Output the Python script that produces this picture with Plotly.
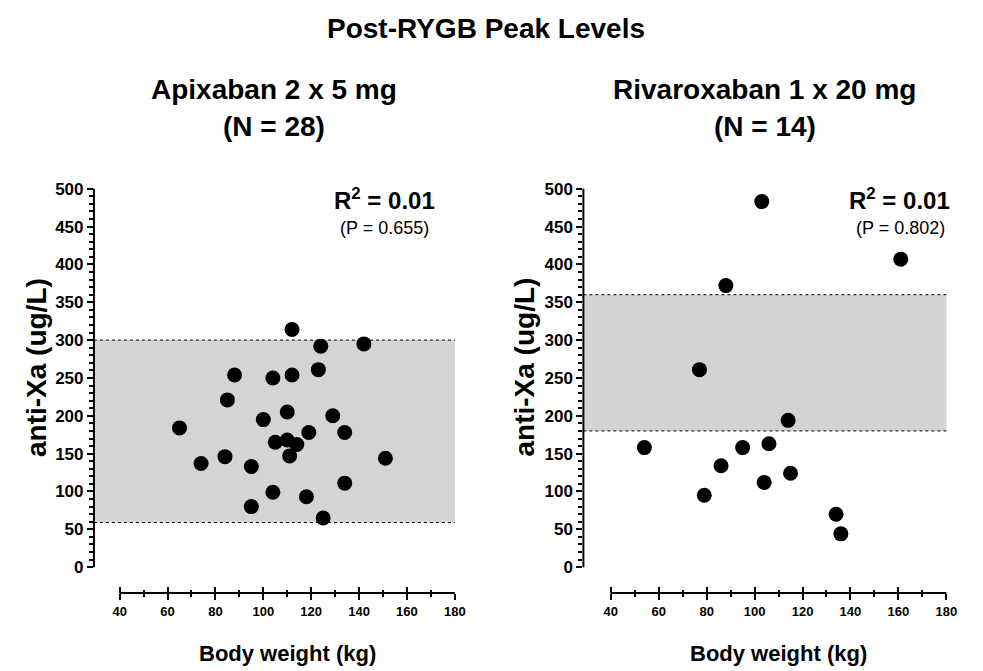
import plotly.graph_objects as go

# ---------------- data ----------------
apix_weight = [65, 74, 84, 85, 88, 95, 95, 100, 104, 104, 105, 110, 110, 111,
               112, 112, 114, 118, 119, 123, 124, 125, 129, 134, 134, 142, 151]
apix_xa = [184, 137, 146, 221, 254, 80, 133, 195, 250, 99, 165, 205, 168, 147,
           314, 254, 162, 93, 178, 261, 292, 65, 200, 178, 111, 295, 144]

riva_weight = [54, 77, 79, 86, 88, 95, 103, 104, 106, 114, 115, 134, 136, 161]
riva_xa = [158, 261, 95, 134, 372, 158, 483, 112, 163, 194, 124, 70, 44, 407]

apix_range = [59, 300]      # target peak range band
riva_range = [180, 360]

titles = ["Apixaban 2 x 5 mg", "Rivaroxaban 1 x 20 mg"]
n_labels = ["(N = 28)", "(N = 14)"]
r2_labels = ["R<sup>2</sup> = 0.01", "R<sup>2</sup> = 0.01"]
p_labels = ["(P = 0.655)", "(P = 0.802)"]

y_ticks = list(range(0, 501, 50))
y_minor = [v for v in range(0, 501, 10) if v % 50]
x_ticks = list(range(40, 181, 20))
x_minor = list(range(50, 180, 20))
y_axis_span = [0, 500]
x_axis_span = [40, 180]

# ---------------- layout helpers ----------------
W, H = 983, 671
FONT = "Liberation Sans, Arial, sans-serif"


def px(x):
    return x / W


def py(y):
    return 1 - y / H


plot_left = [(95, 460), (590, 957)]
plot_top, plot_bottom = 180, 593
yr = [-34.3, 510.6]
xr = [[29.26, 180], [28.56, 180]]


def y_paper(v):
    pix = plot_bottom - (v - yr[0]) / (yr[1] - yr[0]) * (plot_bottom - plot_top)
    return py(pix)


def x_paper(v, i):
    l, r = plot_left[i]
    pix = l + (v - xr[i][0]) / (xr[i][1] - xr[i][0]) * (r - l)
    return px(pix)


fig = go.Figure()

datasets = [(apix_weight, apix_xa, apix_range, "#d4d4d7"),
            (riva_weight, riva_xa, riva_range, "#d3d3d3")]

tickfont_x = dict(family=FONT, size=13, color="black", weight="bold")
tickfont_y = dict(family=FONT, size=17, color="black", weight="bold")

for i, (wx, wy, band, bandcol) in enumerate(datasets):
    xa = "x" if i == 0 else "x2"
    ya = "y" if i == 0 else "y2"
    xo = "x3" if i == 0 else "x4"   # overlay axis for inward tick halves
    fig.add_trace(go.Scatter(
        x=wx, y=wy, mode="markers", xaxis=xa, yaxis=ya,
        marker=dict(size=15, color="black"), showlegend=False,
        hoverinfo="x+y"))
    fig.add_trace(go.Scatter(
        x=[x_axis_span[0]], y=[y_axis_span[0]], mode="markers", xaxis=xo, yaxis=ya,
        marker=dict(size=1, opacity=0), showlegend=False, hoverinfo="skip"))

    xd = xa + " domain"
    # band
    fig.add_shape(type="rect", xref=xd, yref=ya, x0=0, x1=1, y0=band[0], y1=band[1],
                  fillcolor=bandcol, line=dict(width=0), layer="below")
    for b in band:
        fig.add_shape(type="line", xref=xd, yref=ya, x0=0, x1=1, y0=b, y1=b,
                      line=dict(color="black", width=1, dash="dot"), layer="above")
    # axis lines (paper coords derived from the axis scales)
    fig.add_shape(type="line", xref="paper", yref="paper",
                  x0=x_paper(xr[i][0], i), x1=x_paper(xr[i][0], i),
                  y0=y_paper(y_axis_span[0]), y1=y_paper(y_axis_span[1]),
                  line=dict(color="black", width=2))
    fig.add_shape(type="line", xref="paper", yref="paper",
                  x0=x_paper(x_axis_span[0], i), x1=x_paper(x_axis_span[1], i),
                  y0=py(plot_bottom), y1=py(plot_bottom),
                  line=dict(color="black", width=2))

    l, r = plot_left[i]
    axkw_x = dict(domain=[px(l), px(r)], range=xr[i], showgrid=False, zeroline=False,
                  showline=False, tickmode="array", tickvals=x_ticks, ticks="outside",
                  ticklen=6, tickwidth=2, tickcolor="black", tickfont=tickfont_x,
                  minor=dict(tickmode="array", tickvals=x_minor, ticks="outside",
                             ticklen=3, tickwidth=1.5, tickcolor="black"),
                  anchor=ya, fixedrange=True)
    axkw_xo = dict(domain=[px(l), px(r)], range=xr[i], showgrid=False, zeroline=False,
                   showline=False, tickmode="array", tickvals=x_ticks, ticks="inside",
                   ticklen=6, tickwidth=2, tickcolor="black", showticklabels=False,
                   minor=dict(tickmode="array", tickvals=x_minor, ticks="inside",
                              ticklen=3, tickwidth=1.5, tickcolor="black"),
                   anchor=ya, overlaying=xa, fixedrange=True)
    axkw_y = dict(domain=[py(plot_bottom), py(plot_top)], range=yr, showgrid=False,
                  zeroline=False, showline=False, tickmode="array", tickvals=y_ticks,
                  ticks="outside", ticklen=6, tickwidth=2, tickcolor="black",
                  tickfont=tickfont_y,
                  minor=dict(tickmode="array", tickvals=y_minor, ticks="outside",
                             ticklen=4, tickwidth=1.5, tickcolor="black"),
                  anchor=xa, fixedrange=True)
    if i == 0:
        fig.update_layout(xaxis=axkw_x, yaxis=axkw_y, xaxis3=axkw_xo)
    else:
        fig.update_layout(xaxis2=axkw_x, yaxis2=axkw_y, xaxis4=axkw_xo)

    cx = (l + r) / 2
    cxa = (x_paper(x_axis_span[0], i) + x_paper(x_axis_span[1], i)) / 2
    ann = [
        dict(text=titles[i], x=px(cx), y=py(89), size=28),
        dict(text=n_labels[i], x=px(cx), y=py(126), size=28),
        dict(text="Body weight (kg)", x=cxa, y=py(653), size=22),
    ]
    for a in ann:
        fig.add_annotation(text=a["text"], x=a["x"], y=a["y"], xref="paper", yref="paper",
                           xanchor="center", yanchor="middle", showarrow=False,
                           font=dict(family=FONT, size=a["size"], color="black",
                                     weight="bold"))
    # y-axis title
    fig.add_annotation(text="anti-Xa (ug/L)", textangle=-90, x=px(37 if i == 0 else 530),
                       y=py(367), xref="paper", yref="paper", xanchor="center",
                       yanchor="middle", showarrow=False,
                       font=dict(family=FONT, size=28, color="black", weight="bold"))
    # R2 / P
    r2_center = 389 if i == 0 else 910
    p_center = 389 if i == 0 else 911
    fig.add_annotation(text=r2_labels[i], x=px(r2_center), y=py(198), xref="paper",
                       yref="paper", xanchor="center", yanchor="middle", showarrow=False,
                       font=dict(family=FONT, size=24, color="black", weight="bold"))
    fig.add_annotation(text=p_labels[i], x=px(p_center), y=py(227), xref="paper",
                       yref="paper", xanchor="center", yanchor="middle", showarrow=False,
                       font=dict(family=FONT, size=18, color="black"))

fig.add_annotation(text="Post-RYGB Peak Levels", x=px(491.5), y=py(28), xref="paper",
                   yref="paper", xanchor="center", yanchor="middle", showarrow=False,
                   font=dict(family=FONT, size=28, color="black", weight="bold"))

fig.update_layout(width=W, height=H, autosize=False,
                  margin=dict(l=0, r=0, t=0, b=0, pad=0),
                  plot_bgcolor="white", paper_bgcolor="white", hovermode="closest")

post = ("document.body.style.margin='0';"
        "document.body.style.padding='0';")
fig.write_html("out.html", post_script=post,
               config={"responsive": False, "displayModeBar": False})
